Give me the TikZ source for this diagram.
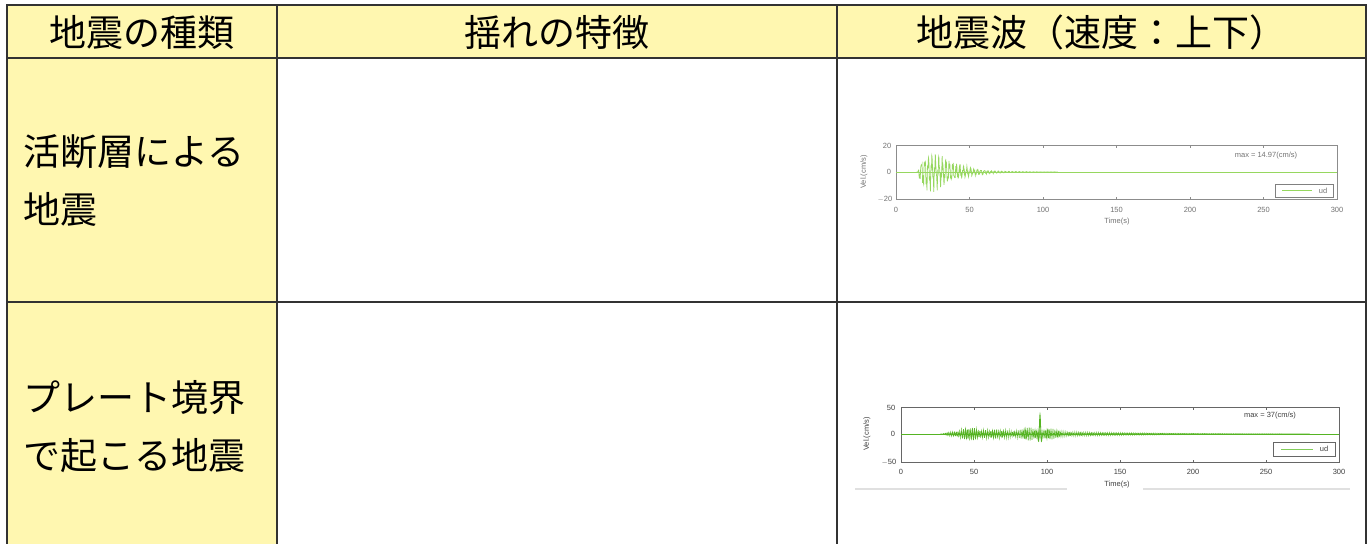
\documentclass[tikz,border=0pt]{standalone}
\usepackage{fontspec}
\setmainfont{Liberation Sans}
\newfontfamily\jp{Noto Sans CJK JP}
\definecolor{cellyellow}{RGB}{255,247,176}
\definecolor{gridline}{RGB}{50,50,50}
\definecolor{waveA}{RGB}{150,215,95}
\definecolor{waveB}{RGB}{85,180,35}
\definecolor{legB}{RGB}{130,205,90}
\tikzset{
  grid line/.style={draw=gridline,line width=2.2pt},
  head text/.style={font=\jp\fontsize{37}{40}\selectfont,inner sep=0pt},
  cell text/.style={font=\jp\fontsize{37}{58}\selectfont,inner sep=0pt,align=left,anchor=west},
  tick label/.style={font=\fontsize{7.5}{8}\selectfont,inner sep=0pt},
  axis box/.style={line width=0.8pt},
}
\begin{document}
\begin{tikzpicture}[x=1pt,y=-1pt]
\useasboundingbox (0,0) rectangle (1370,544);
\fill[white] (0,0) rectangle (1370,544);
% yellow cells
\fill[cellyellow] (7,5) rectangle (1366,58);
\fill[cellyellow] (7,58) rectangle (277,544);
% grid
\draw[grid line] (7,5) -- (1366,5);
\draw[grid line] (7,58) -- (1366,58);
\draw[grid line] (7,302) -- (1366,302);
\draw[grid line] (7,4) -- (7,544);
\draw[grid line] (277,4) -- (277,544);
\draw[grid line] (837,4) -- (837,544);
\draw[grid line] (1366,4) -- (1366,544);
% header texts
\node[head text] (h1) at (142,32) {地震の種類};
\node[head text] (h2) at (557,32) {揺れの特徴};
\node[head text] (h3) at (1101,32) {地震波（速度：上下）};
% row texts
\node[cell text] (c1) at (23,181) {活断層による\\地震};
\node[cell text] (c2) at (23,427) {プレート境界\\で起こる地震};

% ---------- chart 1 ----------
\begin{scope}[black!55]
\draw[axis box,black!45] (896,145) rectangle (1337,199);
\foreach \t in {50,100,150,200,250}{
  \draw[black!45,line width=0.6pt] ({896+1.47*\t},145) -- ++(0,2.5);
  \draw[black!45,line width=0.6pt] ({896+1.47*\t},199) -- ++(0,-2.5);
}
\draw[waveA,line width=0.5pt] (896,172) -- (1337,172);
\draw[waveA,line width=0.7pt] plot[domain=14:110,samples=520]
  ({896+1.47*\x},{172-1.35*((\x>15)*(14.5*max((\x-15)/9,0)*exp(max(1-(\x-15)/9,-8))+2.5*exp(-(\x-15)/30))*(0.6*sin(360*frac(0.42*\x))+0.25*sin(360*frac(1.31*\x)+40)+0.15*sin(360*frac(3.7*\x))))});
\node[tick label] (a1y20) at (887,146) {20};
\node[tick label] (a1y0) at (889,172) {0};
\node[tick label] (a1ym20) at (885,199) {$-$20};
\node[tick label,rotate=90] (a1yl) at (864,172) {Vel.(cm/s)};
\foreach \t in {0,50,100,150,200,250,300}{
  \node[tick label] (a1x\t) at ({896+1.47*\t},210) {\t};
}
\node[tick label] (a1xl) at (1117,222) {Time(s)};
\node[tick label] (a1max) at (1266,156) {max = 14.97(cm/s)};
\draw[line width=0.6pt,black!50] (1275,184) rectangle (1333,197);
\draw[draw=waveA,line width=0.8pt] (1282,190.5) -- (1312,190.5);
\node[tick label] (a1leg) at (1323,190.5) {ud};
\end{scope}

% ---------- chart 2 ----------
\begin{scope}[black!75]
\draw[axis box,black!60] (901,407) rectangle (1339,462);
\foreach \t in {50,100,150,200,250}{
  \draw[black!60,line width=0.6pt] ({901+1.46*\t},407) -- ++(0,2.5);
  \draw[black!60,line width=0.6pt] ({901+1.46*\t},462) -- ++(0,-2.5);
}
\draw[waveB,line width=0.5pt] (901,434) -- (1339,434);
\draw[waveB,line width=0.6pt] plot[domain=27:280,samples=1150]
  ({901+1.46*\x},{434-0.54*((\x>28)*min((\x-28)/4,1)*(6+14*exp(-min(((\x-47)/7)^2,8))+7*exp(-min(((\x-65)/10)^2,8))+12*exp(-min(((\x-87)/6)^2,8))+9*exp(-min(((\x-102)/6)^2,8)))*exp(-min(max(\x-100,0)/55,8))*(0.5*sin(360*frac(0.8*\x))+0.5*sin(360*frac(2.27*\x)+70)))});
\draw[waveB,line width=0.8pt] plot[domain=92:99,samples=60,smooth]
  ({901+1.46*\x},{434-0.54*(36*exp(-min(((\x-95.2)/1.1)^2,8))*cos(150*(\x-95.2)))});
\node[tick label] (a2y50) at (891,408) {50};
\node[tick label] (a2y0) at (893,434) {0};
\node[tick label] (a2ym50) at (889,462) {$-$50};
\node[tick label,rotate=90] (a2yl) at (867,434) {Vel.(cm/s)};
\foreach \t in {0,50,100,150,200,250,300}{
  \node[tick label] (a2x\t) at ({901+1.46*\t},472) {\t};
}
\node[tick label] (a2xl) at (1117,485) {Time(s)};
\node[tick label] (a2max) at (1270,416) {max = 37(cm/s)};
\draw[line width=0.6pt,black!60] (1273,442) rectangle (1335,456);
\draw[draw=legB,line width=0.8pt] (1281,449) -- (1313,449);
\node[tick label] (a2leg) at (1324,449) {ud};
\end{scope}
\draw[black!12,line width=1.2pt] (855,489) -- (1067,489);
\draw[black!12,line width=1.2pt] (1143,489) -- (1350,489);
\end{tikzpicture}
\end{document}
